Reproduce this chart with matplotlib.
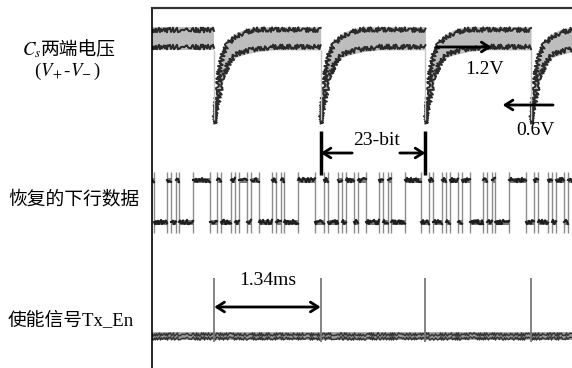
import matplotlib
matplotlib.use('Agg')
import matplotlib.pyplot as plt

plt.rcParams['mathtext.fontset'] = 'stix'
FONT = ['Liberation Serif', 'Noto Sans CJK SC']

# time axis in ms
t_end = 5.33
frame_ms = 1.34
pulse_times = [0.79, 2.14, 3.47, 4.81]

# Cs voltage envelope after each discharge: ms after pulse, volts
cs_dt = [0, 0.025, 0.05, 0.076, 0.114, 0.177, 0.27, 0.37, 0.53, 0.75]
cs_upper = [0.44, 0.67, 0.89, 1.03, 1.17, 1.27, 1.34, 1.38, 1.41, 1.41]
cs_lower = [0.44, 0.52, 0.61, 0.72, 0.86, 0.99, 1.09, 1.12, 1.15, 1.17]

# recovered downlink data: high bits of one frame, ms after pulse
bit_high_start = [0.04, 0.215, 0.317, 0.469, 0.735, 0.849, 1.065]
bit_high_end = [0.09, 0.265, 0.418, 0.570, 0.786, 0.887, 1.280]


# vertical placement of the three traces (axes y runs top->bottom)
def cs_y(v):
    return 163 - 96.7 * v


DATA_HI, DATA_LO = 180, 222
EN_BASE, EN_TOP = 336, 278

fig = plt.figure(figsize=(5.72, 3.68), dpi=100)
ax = fig.add_axes([152 / 572, 0, 420 / 572, 360 / 368])
ax.set_xlim(0, t_end)
ax.set_ylim(368, 8)
ax.set_xticks([])
ax.set_yticks([])
for s in ['right', 'bottom']:
    ax.spines[s].set_visible(False)
ax.spines['left'].set_linewidth(1.2)
ax.spines['top'].set_linewidth(1.6)
ax.spines['top'].set_color('#333333')


def noisy(x, y, scale=1.6, **kw):
    ln, = ax.plot(x, y, **kw)
    ln.set_sketch_params(scale, 2.0, 2)
    return ln


# ---- Cs voltage ----
frames = [(0.0, [0, pulse_times[0]], [cs_upper[-1]] * 2, [cs_lower[-1]] * 2)]
for i, p in enumerate(pulse_times):
    nxt = pulse_times[i + 1] if i + 1 < len(pulse_times) else p + frame_ms
    x = [p + d for d in cs_dt] + [nxt]
    frames.append((p, x, cs_upper + [cs_upper[-1]], cs_lower + [cs_lower[-1]]))

for p, x, up, lo in frames:
    yu = [cs_y(v) for v in up]
    yl = [cs_y(v) for v in lo]
    ax.fill_between(x, yu, yl, color='#bdbdbd', lw=0)
    noisy(x, [y + 3 for y in yu], scale=2.4, color='#2a2a2a', lw=1.4)
    noisy(x, [y - 3 for y in yl], scale=2.4, color='#2a2a2a', lw=1.4)
ax.vlines(pulse_times, cs_y(cs_lower[-1]), cs_y(cs_lower[0]), color='#c4c4c4', lw=1)

# ---- recovered downlink data ----
highs = []
for s in [pulse_times[0] - frame_ms] + pulse_times:
    for a, b in zip(bit_high_start, bit_high_end):
        highs.append((s + a, s + b))
lows = [(0.0, highs[0][0])] + [(highs[k][1], highs[k + 1][0]) for k in range(len(highs) - 1)]

edges = [t for h in highs for t in h if 0 < t < t_end]
ax.vlines(edges, 172, 233, color='#8c8c8c', lw=1.0)
for segs, lvl in [(highs, DATA_HI), (lows, DATA_LO)]:
    xs, ys = [], []
    for a, b in segs:
        a, b = max(a, 0), min(b, t_end)
        if b <= a:
            continue
        xs += [a, b, float('nan')]
        ys += [lvl, lvl, float('nan')]
    ax.plot(xs, ys, color='#7a7a7a', lw=3.6, solid_capstyle='butt')
    noisy(xs, ys, scale=2.2, color='#1e1e1e', lw=1.5)

# ---- Tx_En ----
ax.plot([0, t_end], [EN_BASE, EN_BASE], color='#9a9a9a', lw=5.5, solid_capstyle='butt')
noisy([0, t_end], [EN_BASE - 2, EN_BASE - 2], color='#333333', lw=1.0)
noisy([0, t_end], [EN_BASE + 2, EN_BASE + 2], color='#333333', lw=1.0)
ax.vlines(pulse_times, EN_TOP, EN_BASE + 6, color='#7a7a7a', lw=1.3)

# ---- annotations ----
arw = dict(arrowstyle='->,head_length=0.55,head_width=0.35', color='black', lw=2,
           shrinkA=0, shrinkB=0)
arw2 = dict(arw, arrowstyle='<->,head_length=0.55,head_width=0.35')

ax.annotate('', xy=(pulse_times[1], 307), xytext=(pulse_times[0], 307), arrowprops=arw2)
ax.text((pulse_times[0] + pulse_times[1]) / 2, 281, '1.34ms', ha='center', va='center',
        fontsize=14, family=FONT)

ax.vlines([pulse_times[1], pulse_times[2]], 131, 175, color='black', lw=2.5)
ax.annotate('', xy=(pulse_times[1], 153), xytext=(2.54, 153), arrowprops=arw)
ax.annotate('', xy=(pulse_times[2], 153), xytext=(3.145, 153), arrowprops=arw)
ax.text(2.85, 141, '23-bit', ha='center', va='center', fontsize=14, family=FONT)

ax.annotate('', xy=(4.31, 47), xytext=(3.61, 47), arrowprops=arw)
ax.text(4.22, 70, '1.2V', ha='center', va='center', fontsize=14, family=FONT)
ax.annotate('', xy=(4.45, 105), xytext=(5.09, 105), arrowprops=arw)
ax.text(4.87, 131, '0.6V', ha='center', va='center', fontsize=14, family=FONT)


# ---- left labels ----
def label(x, y, s, ha='center', va='center'):
    fig.text(x / 572, 1 - y / 368, s, ha=ha, va=va, fontsize=13.5, family=FONT)


label(41, 55, r'$C_s$', ha='right', va='baseline')
label(41, 55, '两端电压', ha='left', va='baseline')
label(67, 71, r'($V_{\!+}$-$V_{\!-}$)')
label(74, 200, '恢复的下行数据')
label(71, 320, '使能信号Tx_En')

fig.savefig('out.png', dpi=100)
